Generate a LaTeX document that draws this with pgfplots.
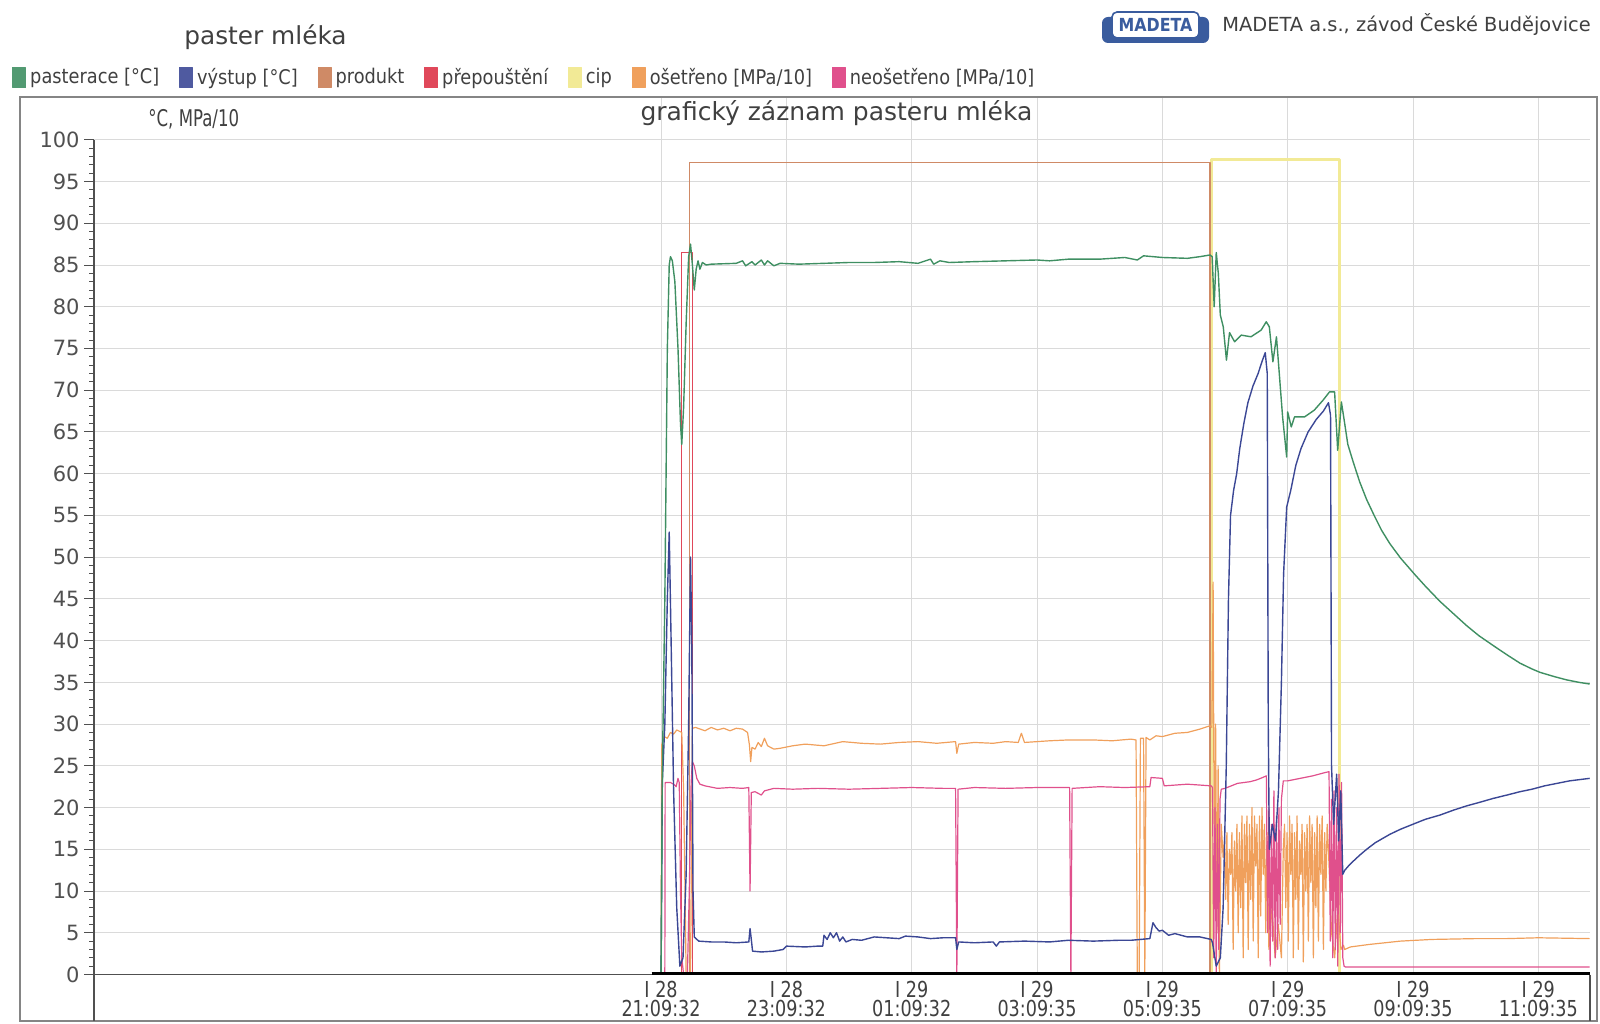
\documentclass[border=0pt]{standalone}
\usepackage{fontspec}
\setmainfont{DejaVu Sans}
\newfontfamily\condfont{DejaVu Sans}[FakeStretch=0.88]
\newfontfamily\narrowfont{DejaVu Sans}[FakeStretch=0.8]
\newfontfamily\tightfont{DejaVu Sans}[FakeStretch=0.72]
\usepackage{pgfplots}
\pgfplotsset{compat=1.18}
\definecolor{pastC}{HTML}{3F8F62}
\definecolor{vystC}{HTML}{3B4795}
\definecolor{prodC}{HTML}{CF8A66}
\definecolor{prepC}{HTML}{E0485A}
\definecolor{cipC}{HTML}{F2EA96}
\definecolor{osetC}{HTML}{F0A05C}
\definecolor{neosC}{HTML}{E0508C}
\definecolor{gridC}{HTML}{DADADA}
\definecolor{txtC}{HTML}{404040}
\definecolor{axC}{HTML}{505050}
\definecolor{logoC}{HTML}{3A5C9E}
\begin{document}
\begin{tikzpicture}
\useasboundingbox (0,0) rectangle (800pt,511.5pt);
% frame and header
\foreach \gx in {330.6,393.25,455.9,518.55,581.2,643.85,706.5,769.15}
  \draw[gridC, line width=0.5pt] (\gx pt,441.6pt) -- (\gx pt,463pt);
\draw[axC!70, line width=0.6pt] (10pt,1pt) rectangle (798.5pt,463pt);
\node[text=txtC, font=\fontsize{12.4}{14}\selectfont] at (132.75pt,493pt) {paster mléka};
\fill[logoC, rounded corners=3pt] (551pt,490pt) rectangle (604.5pt,503pt);
\fill[white, draw=logoC, line width=0.8pt, rounded corners=2.5pt] (556pt,492.5pt) rectangle (599.5pt,505.5pt);
\node[text=logoC, font=\condfont\bfseries\fontsize{9}{10}\selectfont] at (577.75pt,499pt) {MADETA};
\node[anchor=west, inner sep=0pt, text=txtC, font=\fontsize{9.7}{11}\selectfont] at (611pt,499pt) {MADETA a.s., závod České Budějovice};
\begin{axis}[
  at={(47pt,24.25pt)}, anchor=south west,
  scale only axis, width=748pt, height=417.35pt,
  xmin=-9.05, xmax=14.825, ymin=0, ymax=100,
  axis x line=bottom, axis y line=left,
  axis line style={-, draw=axC, line width=0.8pt},
  xtick={0,2,4,6,8,10,12,14},
  xticklabels={{I 28\\21:09:32},{I 28\\23:09:32},{I 29\\01:09:32},{I 29\\03:09:35},{I 29\\05:09:35},{I 29\\07:09:35},{I 29\\09:09:35},{I 29\\11:09:35}},
  xticklabel style={align=center, text=txtC, inner sep=1pt, yshift=3pt, font=\narrowfont\fontsize{11}{9.6}\selectfont},
  x tick style={draw=none},
  ytick={0,5,...,100},
  minor y tick num=4,
  tick align=outside,
  major tick length=5pt, minor tick length=2.5pt,
  y tick style={draw=axC, line width=0.5pt},
  yticklabel style={text=axC, inner sep=2pt, font=\fontsize{10.5}{12}\selectfont},
  /pgf/number format/assume math mode=true,
  grid=major,
  major grid style={draw=gridC, line width=0.5pt},
  title={grafický záznam pasteru mléka},
  title style={at={(axis description cs:0.4963,1.0174)}, anchor=center, yshift=0pt, text=txtC, font=\fontsize{12.5}{14}\selectfont},
  ylabel={°C, MPa/10},
  ylabel style={at={(axis description cs:0.0361,1.0244)}, rotate=-90, anchor=west, inner sep=0pt, text=txtC, font=\tightfont\fontsize{11.5}{12}\selectfont},
  legend columns=-1,
  legend cell align=left,
  legend style={at={(axis description cs:-0.0548,1.0746)}, anchor=west, draw=none, fill=none, inner sep=0pt,
    text=txtC, font=\condfont\fontsize{10.1}{11}\selectfont,
    /tikz/every even column/.append style={column sep=8pt}},
  line join=round,
]
\addlegendimage{legend image code/.code={\fill[pastC!90!white] (0pt,-5pt) rectangle (6.5pt,5pt);}}
\addlegendentry{pasterace [°C]}
\addlegendimage{legend image code/.code={\fill[vystC!90!white] (0pt,-5pt) rectangle (6.5pt,5pt);}}
\addlegendentry{výstup [°C]}
\addlegendimage{legend image code/.code={\fill[prodC] (0pt,-5pt) rectangle (6.5pt,5pt);}}
\addlegendentry{produkt}
\addlegendimage{legend image code/.code={\fill[prepC] (0pt,-5pt) rectangle (6.5pt,5pt);}}
\addlegendentry{přepouštění}
\addlegendimage{legend image code/.code={\fill[cipC] (0pt,-5pt) rectangle (6.5pt,5pt);}}
\addlegendentry{cip}
\addlegendimage{legend image code/.code={\fill[osetC] (0pt,-5pt) rectangle (6.5pt,5pt);}}
\addlegendentry{ošetřeno [MPa/10]}
\addlegendimage{legend image code/.code={\fill[neosC] (0pt,-5pt) rectangle (6.5pt,5pt);}}
\addlegendentry{neošetřeno [MPa/10]}

% cip
\addplot[cipC, line width=1.6pt, forget plot] coordinates {
(-0.05,0) (8.79,0) (8.79,97.6) (10.83,97.6) (10.83,0) (14.82,0)};
% produkt
\addplot[prodC, line width=0.7pt, forget plot] coordinates {
(-0.05,0) (0.456,0) (0.456,97.3) (8.76,97.3) (8.76,0) (14.82,0)};
% prepousteni
\addplot[prepC, line width=0.7pt, forget plot] coordinates {
(-0.05,0) (0.33,0) (0.33,86.5) (0.50,86.5) (0.50,0) (14.82,0)};
% osetreno
\addplot[osetC, line width=0.6pt, forget plot] coordinates {
(-0.05,0) (0.0,0) (0.01,27.5) (0.05,28.5) (0.1,28.3) (0.15,29.0) (0.2,28.8) (0.25,29.3) (0.33,29) (0.36,22) (0.40,0) (0.47,0) (0.50,29.5)
(0.55,29.6) (0.7,29.2) (0.8,29.6) (0.9,29.3) (1.0,29.5) (1.1,29.2) (1.2,29.5) (1.3,29.4) (1.38,29.0) (1.41,27.5) (1.43,25.5) (1.45,27.2)
(1.5,27.0) (1.55,27.8) (1.6,27.3) (1.65,28.3) (1.7,27.4) (1.8,27.0) (1.9,27.1) (2.1,27.4) (2.3,27.6) (2.6,27.4) (2.9,27.9) (3.2,27.7)
(3.5,27.6) (3.8,27.8) (4.1,27.9) (4.4,27.7) (4.70,27.9) (4.72,26.5) (4.75,27.6) (5.0,27.8) (5.3,27.7) (5.5,27.9) (5.7,27.8) (5.75,28.9)
(5.8,27.8) (6.2,28.0) (6.5,28.1) (6.9,28.1) (7.2,28.0) (7.5,28.2) (7.58,28.1) (7.60,0) (7.63,0) (7.65,28.3) (7.70,28.3) (7.72,0) (7.74,28.4)
(7.8,28.1) (7.9,28.6) (8.0,28.5) (8.2,28.9) (8.4,29.0) (8.6,29.4) (8.76,29.8) (8.79,29.6) (8.81,47) (8.83,10) (8.85,30) (8.87,5) (8.89,25)
(8.91,0) (8.94,18) (8.97,14) (8.99,16) (9.01,9) (9.03,17) (9.05,6) (9.07,15) (9.09,12) (9.11,17) (9.13,3) (9.15,16) (9.17,10) (9.19,18)
(9.21,5) (9.23,17) (9.25,8) (9.27,19) (9.29,2) (9.31,18) (9.33,11) (9.35,19) (9.37,3) (9.39,18) (9.41,9) (9.43,20) (9.45,4) (9.47,19)
(9.49,13) (9.51,18) (9.53,2) (9.55,19) (9.57,7) (9.59,20) (9.61,12) (9.63,18) (9.65,5) (9.67,17) (9.70,3) (9.75,8) (9.80,2) (9.85,6)
(9.90,2) (9.93,15) (9.95,18) (9.97,8) (9.99,17) (10.01,4) (10.03,19) (10.05,12) (10.07,18) (10.09,2) (10.11,17) (10.13,9) (10.15,19)
(10.17,3) (10.19,16) (10.21,12) (10.23,18) (10.25,1.5) (10.27,17) (10.29,10) (10.31,18) (10.33,4) (10.35,19) (10.37,11) (10.39,18)
(10.41,2) (10.43,17) (10.45,8) (10.47,19) (10.49,4) (10.51,18) (10.53,12) (10.55,19) (10.57,3) (10.59,17) (10.61,10) (10.63,18)
(10.65,15) (10.70,5) (10.75,2) (10.80,8) (10.85,3) (10.89,3.5) (10.91,3.0) (11.0,3.3) (11.3,3.6) (11.8,4.0) (12.3,4.2) (13.0,4.3)
(13.5,4.3) (14.0,4.4) (14.82,4.3)};
% neosetreno
\addplot[neosC, line width=0.6pt, forget plot] coordinates {
(-0.05,0) (0.06,0) (0.065,23) (0.15,23) (0.20,22.8) (0.24,22.5) (0.27,23.5) (0.29,23) (0.31,10) (0.33,2) (0.36,0) (0.42,0) (0.45,10)
(0.48,23) (0.50,25.5) (0.53,25) (0.57,23.5) (0.62,22.8) (0.7,22.6) (0.9,22.3) (1.1,22.4) (1.3,22.3) (1.40,22.4) (1.42,10) (1.44,21.8)
(1.5,21.9) (1.6,21.5) (1.65,22.0) (1.8,22.3) (2.1,22.2) (2.5,22.3) (3.0,22.2) (3.5,22.3) (4.0,22.4) (4.5,22.3) (4.70,22.3) (4.72,0)
(4.74,22.2) (5.0,22.4) (5.5,22.3) (6.0,22.4) (6.52,22.4) (6.54,0) (6.56,22.3) (7.0,22.5) (7.4,22.4) (7.80,22.5) (7.82,23.6) (8.0,23.5)
(8.03,22.6) (8.4,22.8) (8.78,22.6) (8.80,22.4) (8.82,2) (8.84,20) (8.86,0) (8.88,18) (8.90,3) (8.92,21) (8.94,22.2) (9.0,22.3)
(9.1,22.6) (9.2,22.9) (9.3,23.0) (9.4,23.1) (9.5,23.3) (9.6,23.6) (9.66,23.8) (9.68,5) (9.70,20) (9.72,1) (9.74,18) (9.76,4) (9.78,22)
(9.80,2) (9.82,19) (9.84,3) (9.86,20) (9.88,6) (9.90,21) (9.93,23.2) (10.0,23.2) (10.2,23.5) (10.4,23.8) (10.6,24.2) (10.66,24.3)
(10.68,4) (10.70,21) (10.72,2) (10.74,22) (10.76,3) (10.78,20) (10.80,1) (10.82,24) (10.84,5) (10.86,23) (10.88,2) (10.90,1)
(10.92,0.9) (14.82,0.9)};
% vystup
\addplot[vystC, line width=0.7pt, forget plot] coordinates {
(-0.05,0) (0.0,0) (0.02,23) (0.06,30) (0.10,45) (0.13,53) (0.16,40) (0.20,22) (0.25,8) (0.30,1) (0.35,2) (0.40,12) (0.44,30)
(0.47,50) (0.49,40) (0.51,10) (0.53,4.5) (0.6,4.0) (0.8,3.9) (1.0,3.9) (1.2,3.8) (1.40,3.9) (1.42,5.5) (1.44,4.2) (1.46,2.8) (1.6,2.7)
(1.8,2.8) (1.95,3.0) (2.0,3.4) (2.3,3.3) (2.5,3.4) (2.58,3.4) (2.6,4.7) (2.65,4.2) (2.7,5.0) (2.75,4.4) (2.8,5.0) (2.85,4.0) (2.9,4.5)
(2.95,3.9) (3.05,4.2) (3.2,4.1) (3.4,4.5) (3.6,4.4) (3.8,4.3) (3.9,4.6) (4.1,4.5) (4.3,4.3) (4.5,4.4) (4.70,4.4) (4.72,3.0) (4.75,3.9)
(5.0,3.8) (5.3,3.9) (5.35,3.4) (5.4,3.9) (5.8,4.0) (6.2,3.9) (6.5,4.1) (6.9,4.0) (7.3,4.1) (7.5,4.1) (7.8,4.3) (7.85,6.2) (7.9,5.6)
(7.95,5.2) (8.0,5.3) (8.1,4.7) (8.2,4.9) (8.4,4.5) (8.6,4.5) (8.78,4.2) (8.80,3.8) (8.86,1.0) (8.925,2) (8.97,8) (9.02,25) (9.055,45)
(9.088,55) (9.137,58) (9.186,60) (9.235,63) (9.3,66) (9.365,68.5) (9.446,70.5) (9.528,72) (9.593,73.5) (9.642,74.5) (9.674,72)
(9.69,30) (9.707,15) (9.756,18) (9.805,16) (9.853,22) (9.90,35) (9.935,48) (9.984,56) (10.049,58) (10.13,61) (10.212,63) (10.326,65)
(10.456,66.5) (10.57,67.5) (10.651,68.5) (10.684,67) (10.70,25) (10.733,18) (10.782,24) (10.814,16) (10.847,22) (10.879,12)
(10.912,12.5) (10.97,13.0) (11.05,13.6) (11.15,14.3) (11.26,15.0) (11.4,15.8) (11.632,16.8) (11.8,17.4) (12.031,18.1) (12.2,18.6)
(12.43,19.1) (12.65,19.7) (12.855,20.2) (13.05,20.6) (13.282,21.1) (13.5,21.5) (13.707,21.9) (13.9,22.2) (14.1,22.6) (14.3,22.9)
(14.5,23.2) (14.82,23.5)};
% pasterace
\addplot[pastC, line width=0.7pt, forget plot] coordinates {
(-0.05,0) (0.0,0) (0.02,24) (0.06,45) (0.10,75) (0.13,85) (0.15,86) (0.18,85.5) (0.22,83) (0.27,75) (0.31,66) (0.33,63.5) (0.36,68)
(0.40,78) (0.44,86) (0.47,87.5) (0.50,85) (0.53,82) (0.56,84.5) (0.59,85.5) (0.62,84.5) (0.66,85.3) (0.72,85.0) (0.8,85.1) (1.2,85.2)
(1.3,85.5) (1.35,84.9) (1.45,85.4) (1.5,85.0) (1.6,85.6) (1.65,85.0) (1.7,85.5) (1.8,84.9) (1.9,85.2) (2.2,85.1) (2.6,85.2) (3.0,85.3)
(3.4,85.3) (3.8,85.4) (4.1,85.2) (4.3,85.7) (4.35,85.1) (4.45,85.5) (4.6,85.3) (5.0,85.4) (5.5,85.5) (6.0,85.6) (6.2,85.5) (6.5,85.7)
(7.0,85.7) (7.4,85.9) (7.6,85.6) (7.7,86.1) (8.0,85.9) (8.4,85.8) (8.6,86.0) (8.76,86.2) (8.795,86) (8.827,80) (8.86,86.5) (8.893,84)
(8.925,79) (8.972,77.6) (9.023,73.6) (9.072,76.9) (9.153,75.8) (9.259,76.6) (9.414,76.4) (9.577,77.2) (9.658,78.2) (9.707,77.6)
(9.764,73.4) (9.821,76.4) (9.919,66.8) (9.984,62) (10.0,67.4) (10.057,65.6) (10.109,66.8) (10.269,66.8) (10.423,67.6) (10.564,68.8)
(10.668,69.8) (10.749,69.8) (10.798,62.8) (10.857,68.6) (10.90,66.5) (10.96,63.5) (11.05,61.3) (11.15,59.0) (11.26,56.9) (11.38,55.0)
(11.50,53.2) (11.632,51.6) (11.80,49.9) (12.031,47.9) (12.2,46.5) (12.43,44.7) (12.62,43.4) (12.855,41.8) (13.05,40.6) (13.282,39.4)
(13.5,38.3) (13.707,37.3) (13.9,36.6) (14.026,36.2) (14.25,35.7) (14.45,35.3) (14.65,35.0) (14.82,34.8)};
% zero bar
\addplot[black, line width=2.4pt, forget plot] coordinates {(-0.15,0) (14.825,0)};
\end{axis}
\draw[axC, line width=0.8pt] (47pt,24.25pt) -- (47pt,1pt);
\draw[axC, line width=0.8pt] (795pt,24.25pt) -- (795pt,1pt);
\end{tikzpicture}
\end{document}
